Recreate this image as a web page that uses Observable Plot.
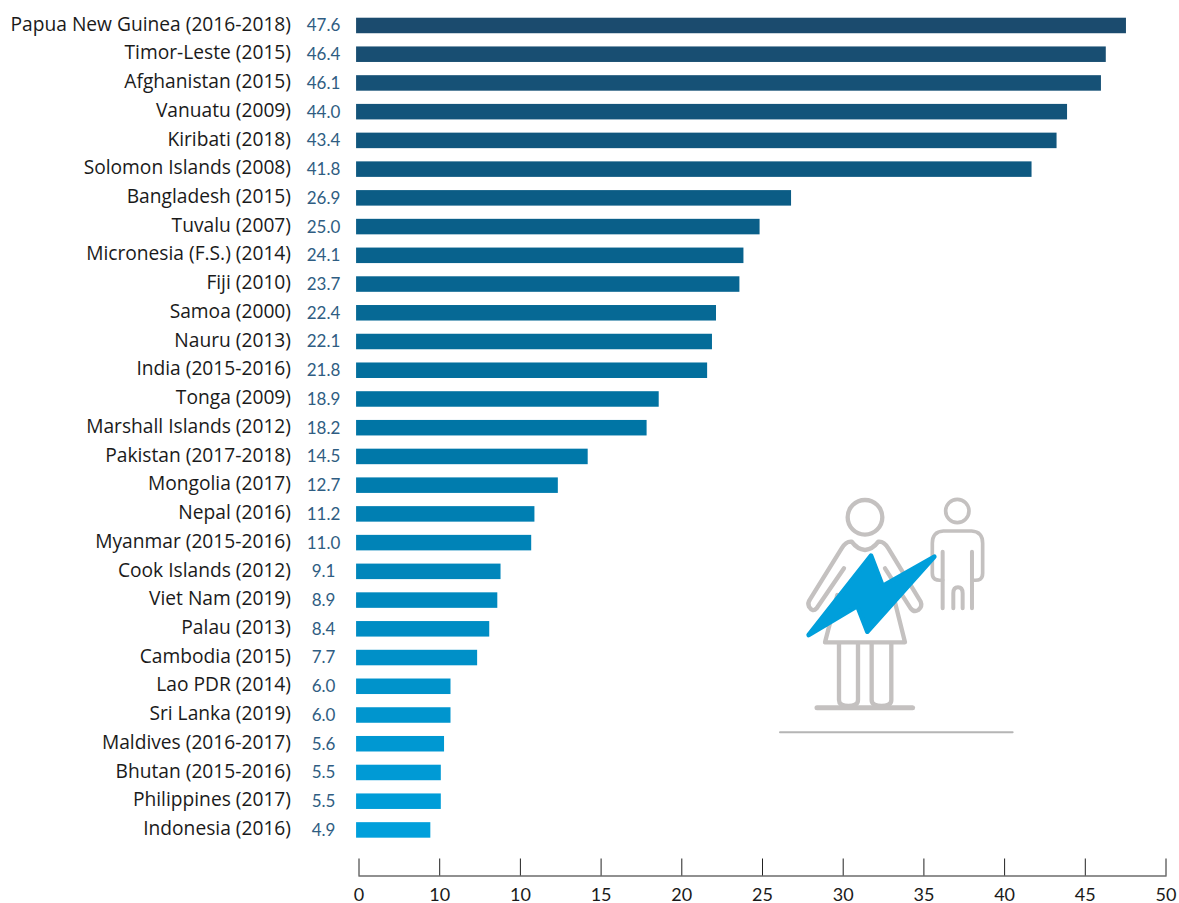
<!DOCTYPE html>
<html><head><meta charset="utf-8">
<style>html,body{margin:0;padding:0;background:#fff}svg{display:block}</style>
<script src="https://cdn.jsdelivr.net/npm/d3@7"></script>
<script src="https://cdn.jsdelivr.net/npm/@observablehq/plot@0.6"></script>
</head><body><div id="chart"></div>
<script>
const countries = ["Papua New Guinea (2016-2018)","Timor-Leste (2015)","Afghanistan (2015)","Vanuatu (2009)","Kiribati (2018)","Solomon Islands (2008)","Bangladesh (2015)","Tuvalu (2007)","Micronesia (F.S.) (2014)","Fiji (2010)","Samoa (2000)","Nauru (2013)","India (2015-2016)","Tonga (2009)","Marshall Islands (2012)","Pakistan (2017-2018)","Mongolia (2017)","Nepal (2016)","Myanmar (2015-2016)","Cook Islands (2012)","Viet Nam (2019)","Palau (2013)","Cambodia (2015)","Lao PDR (2014)","Sri Lanka (2019)","Maldives (2016-2017)","Bhutan (2015-2016)","Philippines (2017)","Indonesia (2016)"];
const printedValues = ["47.6","46.4","46.1","44.0","43.4","41.8","26.9","25.0","24.1","23.7","22.4","22.1","21.8","18.9","18.2","14.5","12.7","11.2","11.0","9.1","8.9","8.4","7.7","6.0","6.0","5.6","5.5","5.5","4.9"];
// bar ends as drawn, read against the axis (they differ slightly from the printed values)
const barEnds = [47.55,46.3,46.0,43.9,43.25,41.7,26.8,24.85,23.85,23.6,22.15,21.9,21.6,18.6,17.85,14.2,12.35,10.9,10.7,8.8,8.6,8.1,7.35,5.7,5.7,5.3,5.1,5.1,4.45];
const barStart = -0.15;
const tickValues = [0,5,10,15,20,25,30,35,40,45,50];
const tickLabels = ["0","10","10","15","20","25","30","35","40","45","50"];
const rows = countries.map((name,i)=>({name,value:printedValues[i],end:barEnds[i],i}));
const W=1179,H=903,marginTop=4.5,marginBottom=27.5;

const icon = () => {
  const ns="http://www.w3.org/2000/svg";
  const g=document.createElementNS(ns,"g");
  g.setAttribute("transform","translate(770,480) scale(0.3333)");
  g.innerHTML=`
  <g fill="none" stroke="#c4c1c0" stroke-linecap="round" stroke-linejoin="round">
    <circle cx="285" cy="112" r="52" stroke-width="13"/>
    <path stroke-width="13" d="M222 265 L140 385 Q128 398 117 380 Q112 368 120 358 L215 205 Q228 183 245 185 Q262 208 285 210 Q308 208 325 185 Q342 183 355 205 L452 365 Q458 380 445 390 Q432 398 422 385 L345 265 M202 345 L165 487 L405 487 L372 355"/>
    <path stroke-width="13" d="M207 490 V660 Q207 678 235 678 Q264 678 264 660 V490 M305 490 V660 Q305 678 335 678 Q364 678 364 660 V490"/>
    <path stroke-width="15" d="M141 683 H428"/>
    <circle cx="562" cy="93" r="35" stroke-width="11"/>
    <path stroke-width="11" d="M518 300 Q487 305 487 280 V190 Q487 155 520 153 H605 Q638 155 638 190 V280 Q638 305 608 300"/>
    <path stroke-width="12" d="M518 215 V385 M606 215 V385 M550 385 V340 Q550 322 564 322 Q578 322 578 340 V385"/>
  </g>
  <path fill="#009fdb" stroke="#009fdb" stroke-width="14" stroke-linejoin="round" d="M303 227 L338 318 L493 230 L292 455 L262 378 L116 465 Z"/>
  <path stroke="#b5b5b5" stroke-width="6" stroke-linecap="round" d="M30 757 H728"/>`;
  return g;
};

const plot = Plot.plot({
  width:W,height:H,marginLeft:358.5,marginRight:13.5,marginTop,marginBottom,
  style:{background:"#fff",overflow:"visible"},
  x:{domain:[0,50],axis:null},
  y:{domain:countries,padding:0.46,axis:null,round:false,range:[marginTop,marginTop+846.4]},
  color:{type:"linear",domain:[0,6,14,22,28],range:["#1b4b6e","#0b5c85","#0075a5","#0090c8","#009fdb"]},
  marks:[
    Plot.barX(rows,{y:"name",x1:()=>barStart,x2:"end",fill:"i"}),
    Plot.text(rows,{y:"name",text:"name",frameAnchor:"left",textAnchor:"end",dx:-68,dy:-1.5,fontSize:19.2,fill:"#1a1a1a",fontFamily:"Open Sans"}),
    Plot.text(rows,{y:"name",text:"value",frameAnchor:"left",textAnchor:"middle",dx:-35.5,fontSize:17,fill:"#2f5d82",fontFamily:"Lato"}),
    Plot.ruleX(tickValues,{x:d=>d,insetTop:H-marginTop-marginBottom-17,stroke:"#222",strokeWidth:1}),
    Plot.frame({anchor:"bottom",stroke:"#222",strokeWidth:1.2}),
    Plot.axisX({ticks:tickValues,label:null,tickSize:0,tickPadding:12,tickFormat:d=>tickLabels[tickValues.indexOf(d)],fontSize:18,fill:"#1a1a1a",fontFamily:"Lato",textStroke:"none"}),
    icon
  ]
});
document.getElementById("chart").append(plot);
</script></body></html>
